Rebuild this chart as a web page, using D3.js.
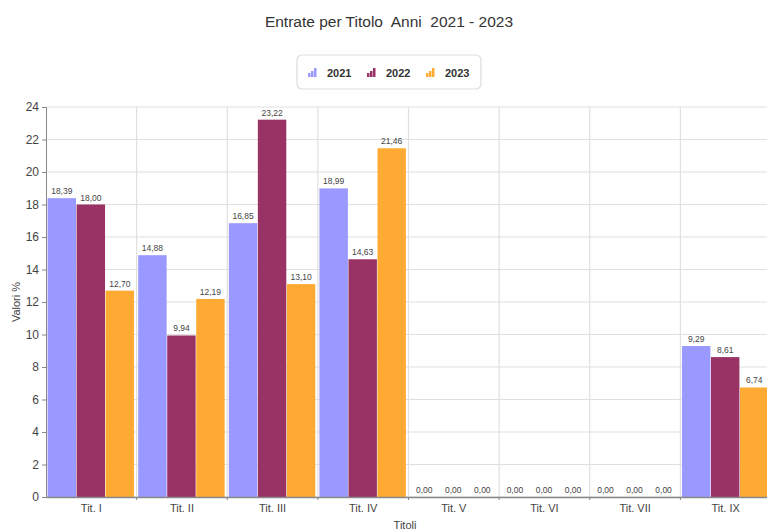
<!DOCTYPE html>
<html>
<head>
<meta charset="utf-8">
<script src="https://cdn.jsdelivr.net/npm/d3@7"></script>
<style>
  body { margin: 0; background: #fff; }
  svg { font-family: "Liberation Sans", Arial, sans-serif; }
</style>
</head>
<body>
<div id="chart"></div>
<script>
var categories = ["Tit. I", "Tit. II", "Tit. III", "Tit. IV", "Tit. V", "Tit. VI", "Tit. VII", "Tit. IX"];
var years = ["2021", "2022", "2023"];
var v2021 = [18.39, 14.88, 16.85, 18.99, 0, 0, 0, 9.29];
var v2022 = [18.00, 9.94, 23.22, 14.63, 0, 0, 0, 8.61];
var v2023 = [12.70, 12.19, 13.10, 21.46, 0, 0, 0, 6.74];
var yTicks = [0, 2, 4, 6, 8, 10, 12, 14, 16, 18, 20, 22, 24];

var colors = ["#9999ff", "#993366", "#ffaa33"];
var series = [v2021, v2022, v2023];

var w = 767, h = 531;
var plotL = 46, plotR = 771, plotT = 107, plotB = 497;

var svg = d3.select("#chart").append("svg")
  .attr("width", w).attr("height", h);

var x = d3.scaleBand().domain(categories).range([plotL, plotR]).padding(0);
var x1 = d3.scaleBand().domain(years).range([1, x.bandwidth() - 2]).padding(0.02);
var y = d3.scaleLinear().domain([0, 24]).range([plotB, plotT]);

// grid
svg.append("g").selectAll("line").data(yTicks).enter().append("line")
  .attr("x1", plotL).attr("x2", w)
  .attr("y1", function(d) { return y(d); }).attr("y2", function(d) { return y(d); })
  .attr("stroke", "#e0e0e0").attr("stroke-width", 1.2);
svg.append("g").selectAll("line").data(categories.slice(1)).enter().append("line")
  .attr("x1", function(d) { return x(d); }).attr("x2", function(d) { return x(d); })
  .attr("y1", plotT).attr("y2", plotB)
  .attr("stroke", "#e0e0e0").attr("stroke-width", 1.2);

// bars
var rows = categories.map(function(c, i) {
  return years.map(function(yr, j) { return {cat: c, year: yr, value: series[j][i], color: colors[j]}; });
});
var groups = svg.append("g").selectAll("g").data(rows).enter().append("g")
  .attr("transform", function(d) { return "translate(" + x(d[0].cat) + ",0)"; });
groups.selectAll("rect").data(function(d) { return d; }).enter().append("rect")
  .attr("x", function(d) { return x1(d.year); })
  .attr("width", x1.bandwidth())
  .attr("y", function(d) { return y(d.value); })
  .attr("height", function(d) { return plotB - y(d.value); })
  .attr("fill", function(d) { return d.color; });
groups.selectAll("text").data(function(d) { return d; }).enter().append("text")
  .attr("x", function(d) { return x1(d.year) + x1.bandwidth() / 2; })
  .attr("y", function(d) { return y(d.value) - 4; })
  .attr("text-anchor", "middle")
  .attr("font-size", 8.5).attr("fill", "#444")
  .text(function(d) { return d.value.toFixed(2).replace(".", ","); });

// axes
var yAxis = svg.append("g").attr("transform", "translate(" + plotL + ",0)")
  .call(d3.axisLeft(y).tickValues(yTicks).tickSize(4).tickPadding(3));
yAxis.select(".domain").attr("stroke", "#888");
yAxis.selectAll(".tick line").attr("stroke", "#888");
yAxis.selectAll("text").attr("font-size", 12).attr("fill", "#444").attr("font-family", "Liberation Sans, Arial, sans-serif");

var xAxis = svg.append("g").attr("transform", "translate(0," + plotB + ")")
  .call(d3.axisBottom(x).tickSize(0).tickPadding(7));
xAxis.select(".domain").attr("stroke", "#888").attr("stroke-width", 1.5);
xAxis.selectAll("text").attr("font-size", 11).attr("fill", "#444").attr("font-family", "Liberation Sans, Arial, sans-serif");
svg.append("g").selectAll("line").data(categories.slice(1)).enter().append("line")
  .attr("x1", function(d) { return x(d); }).attr("x2", function(d) { return x(d); })
  .attr("y1", plotB).attr("y2", plotB + 3).attr("stroke", "#888");

// titles
svg.append("text").attr("x", 389).attr("y", 27).attr("text-anchor", "middle")
  .attr("font-size", 15.5).attr("fill", "#333").style("white-space", "pre")
  .text("Entrate per Titolo  Anni  2021 - 2023");
svg.append("text").attr("transform", "translate(20,302) rotate(-90)")
  .attr("text-anchor", "middle").attr("font-size", 11).attr("fill", "#444").text("Valori %");
svg.append("text").attr("x", 405).attr("y", 529).attr("text-anchor", "middle")
  .attr("font-size", 11).attr("fill", "#444").text("Titoli");

// legend
var lg = svg.append("g").attr("transform", "translate(297,55)");
lg.append("rect").attr("width", 184).attr("height", 34).attr("rx", 5)
  .attr("fill", "#fff").attr("stroke", "#ddd").attr("stroke-width", 1.2);
var items = lg.selectAll("g").data(years).enter().append("g")
  .attr("transform", function(d, i) { return "translate(" + (11 + i * 59) + ",0)"; });
items.each(function(d, i) {
  var g = d3.select(this);
  [4, 6, 9].forEach(function(hh, k) {
    g.append("rect").attr("x", k * 3).attr("y", 22 - hh).attr("width", 2.5).attr("height", hh)
      .attr("fill", colors[i]);
  });
});
items.append("text").attr("x", 19).attr("y", 22).attr("font-size", 11).attr("font-weight", "bold")
  .attr("fill", "#333").text(function(d) { return d; });
</script>
</body>
</html>
